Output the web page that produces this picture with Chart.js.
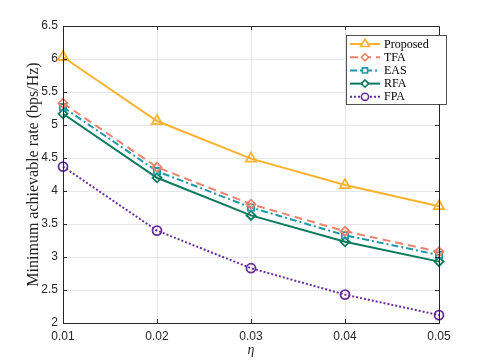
<!DOCTYPE html>
<html>
<head>
<meta charset="utf-8">
<script src="https://cdn.jsdelivr.net/npm/chart.js@4"></script>
<style>
  html, body { margin: 0; padding: 0; background: #fff; }
  #wrap { width: 485px; height: 363px; }
</style>
</head>
<body>
<div id="wrap"><canvas id="myChart" width="485" height="363"></canvas></div>
<script>
// data
const etaLabels = ["0.01", "0.02", "0.03", "0.04", "0.05"];
const proposed = [6.03, 5.06, 4.49, 4.09, 3.77];
const tfa = [5.33, 4.36, 3.80, 3.39, 3.08];
const eas = [5.27, 4.30, 3.75, 3.33, 3.03];
const rfa = [5.17, 4.20, 3.63, 3.23, 2.93];
const fpa = [4.37, 3.40, 2.83, 2.43, 2.12];
const yTicks = [2, 2.5, 3, 3.5, 4, 4.5, 5, 5.5, 6, 6.5];

const ctx = document.getElementById("myChart");
const serif = "'Liberation Serif', 'DejaVu Serif', serif";
const sans = "'Liberation Sans', Arial, sans-serif";

//------------------------------------------
const mkSet = (label, data, color, dash, style, width) => ({
  label: label,
  data: data,
  borderColor: color,
  backgroundColor: "rgba(0,0,0,0)",
  borderWidth: width,
  borderDash: dash,
  pointStyle: style,
  pointRadius: style == "triangle" ? 6 : 4.5,
  pointBorderWidth: 1.8,
  pointBackgroundColor: "rgba(0,0,0,0)",
  pointBorderColor: color,
  tension: 0,
  clip: false,
});

// frame, inner ticks and legend drawn like a matlab box
const boxPlugin = {
  id: "box",
  afterDraw(chart) {
    const c = chart.ctx;
    const a = chart.chartArea;
    const xs = chart.scales.x, ys = chart.scales.y;
    c.save();
    c.strokeStyle = "#262626";
    c.lineWidth = 1;
    c.strokeRect(a.left + 0.5, a.top + 0.5, a.right - a.left, a.bottom - a.top);
    c.beginPath();
    yTicks.forEach((v) => {
      const y = Math.round(ys.getPixelForValue(v)) + 0.5;
      c.moveTo(a.left, y); c.lineTo(a.left + 4, y);
      c.moveTo(a.right, y); c.lineTo(a.right - 4, y);
    });
    etaLabels.forEach((l, i) => {
      const x = Math.round(xs.getPixelForValue(i)) + 0.5;
      c.moveTo(x, a.bottom); c.lineTo(x, a.bottom - 4);
      c.moveTo(x, a.top); c.lineTo(x, a.top + 4);
    });
    c.stroke();

    // legend
    const lx = 346, ly = 35, lw = 100, lh = 69;
    c.fillStyle = "#fff";
    c.fillRect(lx, ly, lw, lh);
    c.strokeStyle = "#262626";
    c.lineWidth = 0.8;
    c.strokeRect(lx + 0.5, ly + 0.5, lw, lh);
    chart.data.datasets.forEach((ds, i) => {
      const y = ly + 9 + i * 13.2;
      c.strokeStyle = ds.borderColor;
      c.lineWidth = ds.borderWidth;
      c.setLineDash(ds.borderDash);
      c.beginPath();
      c.moveTo(lx + 4, y); c.lineTo(lx + 34, y);
      c.stroke();
      c.setLineDash([]);
      c.fillStyle = "#fff";
      c.lineWidth = 1.6;
      Chart.helpers.drawPoint(c, { pointStyle: ds.pointStyle, radius: ds.pointStyle == "triangle" ? 5 : 3.6, rotation: 0, borderWidth: 1.6 }, lx + 19, y);
      c.fillStyle = "#000";
      c.font = "12px " + serif;
      c.textBaseline = "middle";
      c.fillText(ds.label, lx + 38, y + 0.5);
    });
    c.restore();
  },
};

const myChart = new Chart(ctx, {
  type: "line",
  data: {
    labels: etaLabels,
    datasets: [
      mkSet("Proposed", proposed, "#fdb22f", [], "triangle", 2),
      mkSet("TFA", tfa, "#e8836c", [8, 5], "rectRot", 2),
      mkSet("EAS", eas, "#1d9aa8", [7, 3, 2, 3], "rect", 2),
      mkSet("RFA", rfa, "#097a5c", [], "rectRot", 2),
      mkSet("FPA", fpa, "#6a2e9c", [2, 2], "circle", 2),
    ],
  },
  options: {
    responsive: false,
    animation: false,
    layout: { padding: { left: 20, right: 46, top: 26, bottom: 0 } },
    plugins: { legend: { display: false }, tooltip: { enabled: false } },
    scales: {
      x: {
        type: "category",
        offset: false,
        grid: { color: "#e6e6e6", drawTicks: false },
        border: { display: false },
        ticks: { color: "#262626", font: { family: sans, size: 12 }, padding: 6, maxRotation: 0 },
        title: { display: true, text: "η", color: "#262626", font: { family: serif, size: 14, style: "italic" }, padding: { top: 1 } },
        afterFit: (s) => { s.height = 40; },
      },
      y: {
        min: 2,
        max: 6.5,
        afterBuildTicks: (s) => { s.ticks = yTicks.map((v) => ({ value: v })); },
        grid: { color: "#e6e6e6", drawTicks: false },
        border: { display: false },
        ticks: { color: "#262626", font: { family: sans, size: 12 }, padding: 5, callback: (v) => String(v) },
        title: { display: true, text: "Minimum achievable rate (bps/Hz)", color: "#262626", font: { family: serif, size: 16 }, padding: { bottom: 2 } },
        afterFit: (s) => { s.width = 43; },
      },
    },
  },
  plugins: [boxPlugin],
});
</script>
</body>
</html>
